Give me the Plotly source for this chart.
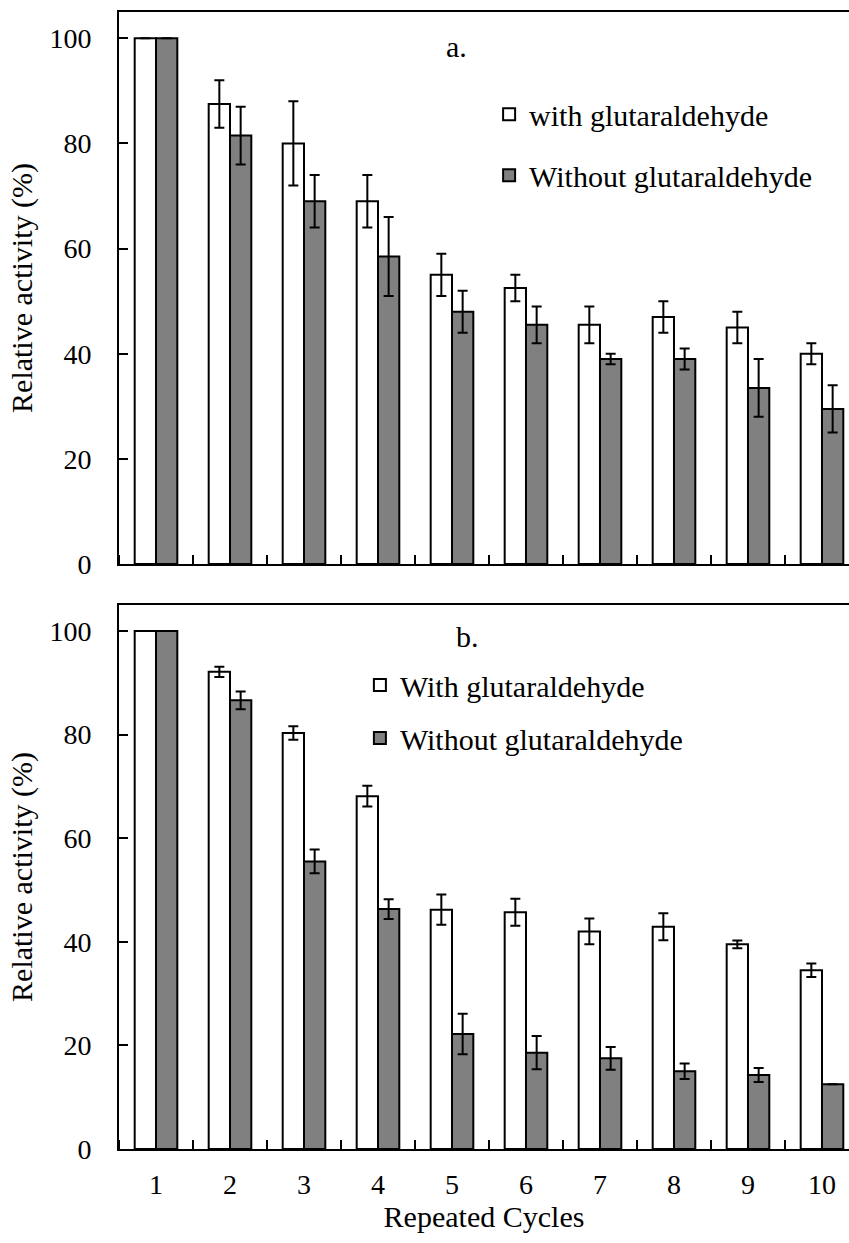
import plotly.graph_objects as go

cycles = [1, 2, 3, 4, 5, 6, 7, 8, 9, 10]
cycle_labels = ["1", "2", "3", "4", "5", "6", "7", "8", "9", "10"]

# Panel a
a_with = [100, 87.5, 80.0, 69.0, 55.0, 52.5, 45.5, 47.0, 45.0, 40.0]
a_with_err = [None, 4.5, 8.0, 5.0, 4.0, 2.5, 3.5, 3.0, 3.0, 2.0]
a_without = [100, 81.5, 69.0, 58.5, 48.0, 45.5, 39.0, 39.0, 33.5, 29.5]
a_without_err = [None, 5.5, 5.0, 7.5, 4.0, 3.5, 1.0, 2.0, 5.5, 4.5]

# Panel b
b_with = [100, 92.1, 80.3, 68.1, 46.2, 45.7, 42.0, 42.9, 39.5, 34.5]
b_with_err = [None, 1.0, 1.3, 2.0, 2.9, 2.6, 2.5, 2.6, 0.75, 1.3]
b_without = [100, 86.6, 55.5, 46.3, 22.2, 18.6, 17.5, 15.0, 14.3, 12.5]
b_without_err = [None, 1.7, 2.3, 1.9, 3.9, 3.2, 2.2, 1.5, 1.35, None]

yticks = [0, 20, 40, 60, 80, 100]

FONT = "Liberation Serif"
GRAY = "#808080"


def err(arr):
    return dict(type="data", array=arr, visible=True, color="black", thickness=2, width=5)


def bar(name, y, e, fill, xa, ya, legend, group):
    return go.Bar(
        x=cycles, y=y, name=name, error_y=err(e),
        marker=dict(color=fill, line=dict(color="black", width=2)),
        xaxis=xa, yaxis=ya, legend=legend, legendgroup=group,
    )


fig = go.Figure()
fig.add_trace(bar("with glutaraldehyde", a_with, a_with_err, "white", "x", "y", "legend", "a1"))
fig.add_trace(bar("Without glutaraldehyde", a_without, a_without_err, GRAY, "x", "y", "legend", "a2"))
fig.add_trace(bar("With glutaraldehyde", b_with, b_with_err, "white", "x2", "y2", "legend2", "b1"))
fig.add_trace(bar("Without glutaraldehyde", b_without, b_without_err, GRAY, "x2", "y2", "legend2", "b2"))

xcommon = dict(
    range=[0.5, 10.365], tickmode="array", tickvals=cycles, ticktext=cycle_labels,
    ticks="", showline=True, linecolor="black", linewidth=2, mirror=True,
    showgrid=False, zeroline=False,
    minor=dict(tick0=0.5, dtick=1, ticks="inside", ticklen=9, tickwidth=2, tickcolor="black", showgrid=False),
    tickfont=dict(family=FONT, size=28, color="black"),
)
ycommon = dict(
    range=[0, 105], tickvals=yticks, ticks="inside", ticklen=9, tickwidth=2,
    tickcolor="black", showline=True, linecolor="black", linewidth=2,
    showgrid=False, zeroline=False, ticklabelstandoff=20,
    tickfont=dict(family=FONT, size=28, color="black"),
    title=dict(text="Relative activity (%)", font=dict(family=FONT, size=30, color="black"), standoff=8),
)

H_PLOT = 1243 - 12 - 94

fig.update_layout(
    width=849, height=1243,
    margin=dict(l=119, r=0, t=12, b=94),
    paper_bgcolor="white", plot_bgcolor="white",
    barmode="group", bargap=0.424, bargroupgap=0,
    font=dict(family=FONT, color="black"),
    xaxis=dict(xcommon, domain=[0, 1], anchor="y", showticklabels=False),
    yaxis=dict(ycommon, domain=[(1243 - 94 - 564) / H_PLOT, 1], anchor="x"),
    xaxis2=dict(xcommon, domain=[0, 1], anchor="y2", ticklabelstandoff=9,
                title=dict(text="Repeated Cycles", font=dict(family=FONT, size=30, color="black"), standoff=4)),
    yaxis2=dict(ycommon, domain=[0, (1243 - 94 - 605) / H_PLOT], anchor="x2"),
    legend=dict(x=0.507, y=0.933, xanchor="left", yanchor="top", bgcolor="rgba(0,0,0,0)",
                font=dict(family=FONT, size=30, color="black"), traceorder="grouped", tracegroupgap=19),
    legend2=dict(x=0.330, y=0.431, xanchor="left", yanchor="top", bgcolor="rgba(0,0,0,0)",
                 font=dict(family=FONT, size=30, color="black"), traceorder="grouped", tracegroupgap=11),
    annotations=[
        dict(text="a.", x=0.463, y=0.9366, xref="x domain", yref="y domain", showarrow=False,
             xanchor="center", yanchor="middle", font=dict(family=FONT, size=30, color="black")),
        dict(text="b.", x=0.477, y=0.943, xref="x2 domain", yref="y2 domain", showarrow=False,
             xanchor="center", yanchor="middle", font=dict(family=FONT, size=30, color="black")),
    ],
)

fig.write_html("out.html")
